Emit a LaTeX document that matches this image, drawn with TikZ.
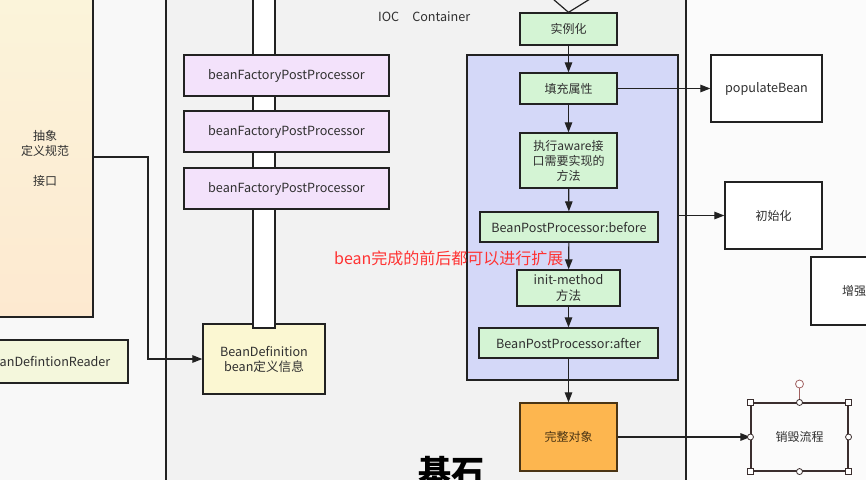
\documentclass[tikz,border=0pt]{standalone}
\usepackage{fontspec}
\setmainfont{Noto Sans CJK SC}
\usetikzlibrary{arrows.meta}
\definecolor{leftbg}{HTML}{F8F8F8}
\definecolor{contbg}{HTML}{F2F2F2}
\definecolor{rightbg}{HTML}{FBFBFB}
\definecolor{lineC}{HTML}{222222}
\definecolor{txtC}{HTML}{303030}
\definecolor{greenF}{HTML}{D4F4D4}
\definecolor{blueF}{HTML}{D4D8F8}
\definecolor{purpF}{HTML}{F3E2FB}
\definecolor{bdF}{HTML}{FBF7D2}
\definecolor{readerF}{HTML}{F4F7DC}
\definecolor{creamT}{HTML}{FBF4DA}
\definecolor{creamB}{HTML}{FDE9D0}
\definecolor{orangeF}{HTML}{FDB64F}
\definecolor{orangeD}{HTML}{4A3414}
\definecolor{selC}{HTML}{3B2E2E}
\definecolor{rotC}{HTML}{A06060}
\definecolor{redT}{HTML}{FF3333}
\tikzset{
  box/.style={draw=lineC, line width=1.3pt, text=txtC, inner sep=0pt, align=center,
    font=\fontsize{12}{15}\selectfont},
  latin/.style={font=\fontsize{12.6}{15}\selectfont},
  greenbox/.style={box, fill=greenF},
  purpbox/.style={box, fill=purpF, latin},
  whitebox/.style={box, fill=white},
  arr/.style={draw=lineC, line width=1.2pt, -{Triangle[length=10pt,width=7.5pt]}},
  plainline/.style={draw=lineC, line width=1.2pt},
  handleSq/.style={draw=selC, fill=white, line width=0.8pt, minimum size=6pt, inner sep=0pt, rectangle},
  handleCi/.style={draw=selC, fill=white, line width=0.8pt, minimum size=6pt, inner sep=0pt, circle}
}
\begin{document}
\begin{tikzpicture}[x=1pt,y=-1pt]
\useasboundingbox (0,0) rectangle (866,479);
\clip (0,0) rectangle (866,479);
% backgrounds
\fill[leftbg] (-5,-5) rectangle (166,485);
\fill[contbg] (166,-5) rectangle (686,485);
\fill[rightbg] (686,-5) rectangle (872,485);
\draw[plainline] (166,-5) -- (166,485);
\draw[plainline] (686,-5) -- (686,485);

% left column
\node[box, top color=creamT, bottom color=creamB, minimum width=96pt, minimum height=318pt] (abs) at (45,158)
  {抽象\\定义规范\\\mbox{}\\接口};
\node[box, fill=readerF, latin, minimum width=161pt, minimum height=43pt] (reader) at (47.5,361.5) {BeanDefintionReader};

% BeanDefinition and pipe
\node[box, fill=bdF, latin, minimum width=122pt, minimum height=70pt] (bd) at (264,359) {BeanDefinition\\bean定义信息};
\draw[draw=lineC, line width=1.3pt, fill=white] (253,-5) rectangle (275,328);
\node[purpbox, minimum width=205pt, minimum height=41pt] (p1) at (286.5,75.5) {beanFactoryPostProcessor};
\node[purpbox, minimum width=205pt, minimum height=41pt] (p2) at (286.5,131.5) {beanFactoryPostProcessor};
\node[purpbox, minimum width=205pt, minimum height=41pt] (p3) at (286.5,188.5) {beanFactoryPostProcessor};

\coordinate (bend) at (148,157);
\draw[arr] (abs.east |- bend) -- (bend) |- (bd.west);

% title
\node[text=txtC, anchor=west, inner sep=0pt, font=\fontsize{12.6}{15}\selectfont] (ioc) at (378,17) {IOC\hspace{13pt}Container};

% lifecycle
\node[box, fill=blueF, minimum width=211pt, minimum height=325pt] (grp) at (572.5,217.5) {};
\node[greenbox, minimum width=97pt, minimum height=32pt] (inst) at (568.5,29) {实例化};
\node[greenbox, minimum width=97pt, minimum height=31pt] (fillp) at (568.5,88.5) {填充属性};
\node[greenbox, minimum width=97pt, minimum height=55pt] (aware) at (568.5,160.5) {执行aware接\\口需要实现的\\方法};
\node[greenbox, latin, minimum width=178pt, minimum height=30pt] (before) at (569,227) {BeanPostProcessor:before};
\node[greenbox, minimum width=103pt, minimum height=36pt, font=\fontsize{12.6}{16}\selectfont] (initm) at (568.5,288) {init-method\\方法};
\node[greenbox, latin, minimum width=179pt, minimum height=30pt] (after) at (568.5,343) {BeanPostProcessor:after};
\node[box, fill=orangeF, draw=orangeD, text=orangeD, minimum width=97pt, minimum height=68pt] (full) at (568.5,437) {完整对象};

\coordinate (vL) at (553,-1);
\coordinate (vR) at (590,-1);
\draw[plainline] (vL) -- (inst.north) -- (vR);

\draw[arr] (inst) -- (fillp);
\draw[arr] (fillp) -- (aware);
\draw[arr] (aware) -- (before);
\draw[arr] (before) -- (initm);
\draw[arr] (initm) -- (after);
\draw[arr] (after) -- (full);

% right column
\node[whitebox, latin, minimum width=111pt, minimum height=67pt] (pop) at (766.5,88.5) {populateBean};
\node[whitebox, minimum width=97pt, minimum height=67pt] (initb) at (773.5,215.5) {初始化};
\node[whitebox, minimum width=110pt, minimum height=68pt] (enh) at (866,291) {};
\node[text=txtC, anchor=west, inner sep=0pt, font=\fontsize{12}{15}\selectfont] (enht) at (842,291) {增强};
\node[box, draw=selC, fill=rightbg, line width=1.1pt, minimum width=97pt, minimum height=68pt] (destroy) at (799.5,437) {销毁流程};

\draw[arr] (fillp) -- (pop);
\draw[arr] (initb.west -| grp.east) -- (initb.west);
\draw[arr] (full) -- (destroy);

% selection handles
\coordinate (rot) at (799.5,384);
\draw[draw=rotC, line width=0.8pt] (destroy.north) -- (rot);
\node[handleCi, draw=rotC, minimum size=8pt] (roth) at (rot) {};
\foreach \a in {north west, north east, south west, south east}{
  \node[handleSq] at (destroy.\a) {};
}
\foreach \a in {north, south, east, west}{
  \node[handleCi] at (destroy.\a) {};
}

% annotations
\node[text=redT, anchor=west, inner sep=0pt, font=\fontsize{16}{18}\selectfont] (note) at (334,258) {bean完成的前后都可以进行扩展};
\node[text=black, inner sep=0pt, font=\fontsize{33}{36}\selectfont\bfseries] (base) at (451,472) {基石};
\end{tikzpicture}
\end{document}
